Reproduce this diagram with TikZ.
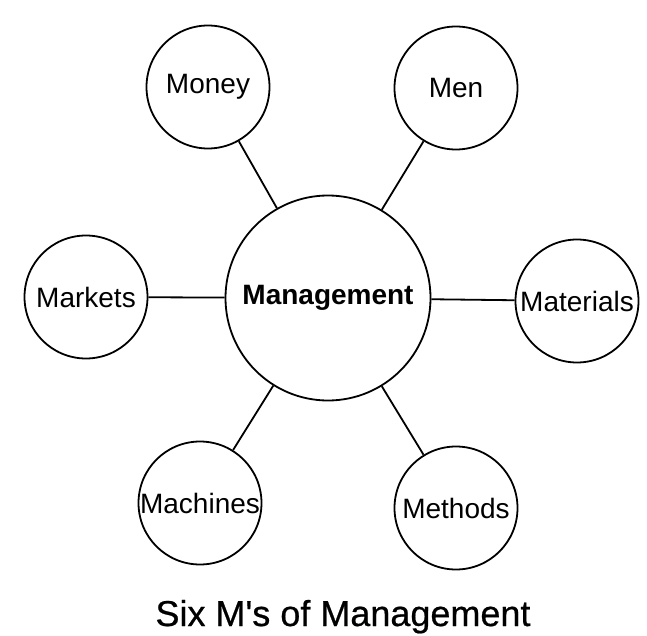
\documentclass[tikz,border=0pt]{standalone}
\usepackage{fontspec}
\setmainfont{Liberation Sans}
\newfontfamily\titlefont[FakeBold=0.6]{Liberation Sans}

\begin{document}
\begin{tikzpicture}[x=1pt, y=-1pt, line width=1.8pt,
    mcircle/.style={draw, circle, inner sep=0pt, minimum size=123pt, font=\fontsize{28}{30}\selectfont},
    hub/.style={mcircle, minimum size=205pt, font=\fontsize{28}{30}\selectfont\bfseries}]
  \useasboundingbox (0,0) rectangle (647,636);
  \node[hub] (mgmt) at (328,298) {Management};
  \node[mcircle] (money) at (208,87) {Money};
  \node[mcircle] (men) at (456,88) {Men};
  \node[mcircle] (markets) at (86,297) {Markets};
  \node[mcircle] (materials) at (577,301) {Materials};
  \node[mcircle] (machines) at (200,503) {Machines};
  \node[mcircle] (methods) at (456,508) {Methods};
  \foreach \m in {money, men, markets, materials, machines, methods}
    \draw (mgmt) -- (\m);
  \node[font=\titlefont\fontsize{36}{40}\selectfont, anchor=base] (title) at (343,626) {Six M's of Management};
\end{tikzpicture}
\end{document}
